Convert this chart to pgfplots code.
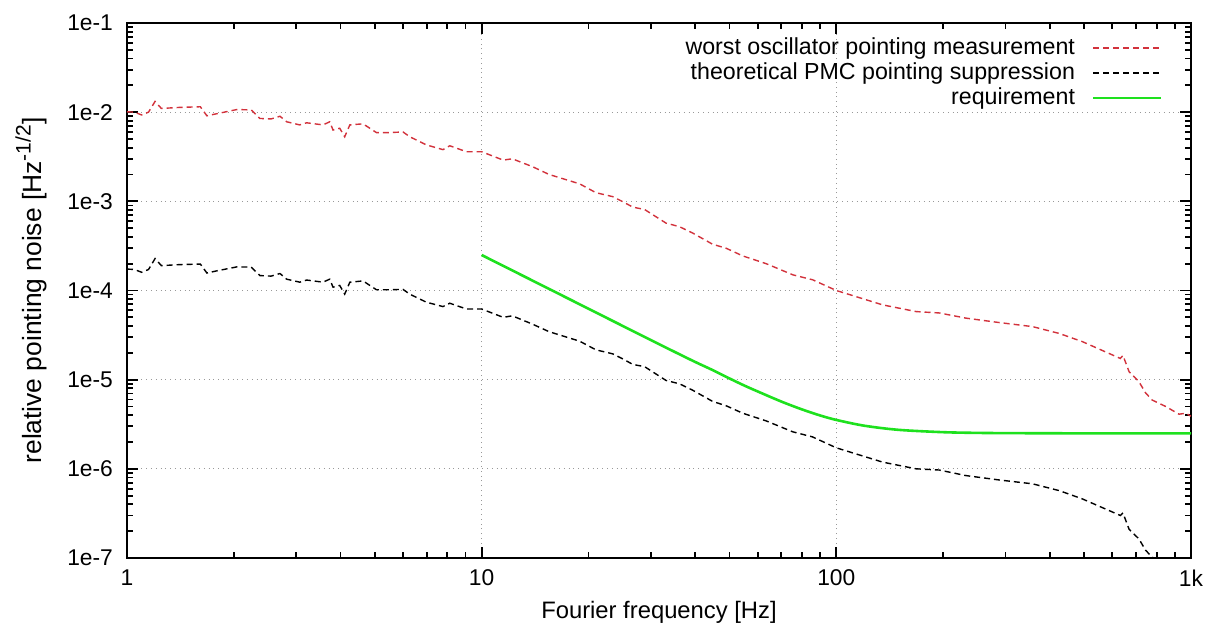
\documentclass[border=0pt]{standalone}
\usepackage{fontspec}
\setmainfont{Liberation Sans}
\usepackage{pgfplots}
\usepackage{pgfplotstable}
\pgfplotsset{compat=1.18}
\definecolor{redc}{RGB}{210,50,60}
\definecolor{greenc}{RGB}{30,225,30}

\pgfplotstableread{
f y
1.00 1.01e-2
1.05 1.00e-2
1.10 9.3e-3
1.15 1.0e-2
1.20 1.32e-2
1.25 1.10e-2
1.40 1.13e-2
1.61 1.15e-2
1.68 9.1e-3
1.79 9.6e-3
2.04 1.07e-2
2.24 1.06e-2
2.37 8.5e-3
2.55 8.4e-3
2.70 9.0e-3
2.82 7.8e-3
3.07 7.2e-3
3.21 7.6e-3
3.57 7.2e-3
3.73 7.8e-3
3.81 6.3e-3
3.98 6.6e-3
4.11 5.3e-3
4.25 7.2e-3
4.63 7.4e-3
5.05 5.9e-3
5.5 5.9e-3
6.0 6.0e-3
6.27 5.3e-3
6.98 4.3e-3
7.78 3.8e-3
8.13 4.2e-3
9.06 3.6e-3
10 3.6e-3
11.5 2.9e-3
12.2 3.0e-3
13.9 2.45e-3
15.5 2.0e-3
18.9 1.57e-3
21.0 1.25e-3
23.4 1.13e-3
25.0 9.9e-4
26.7 8.6e-4
28.8 8.1e-4
33.1 5.7e-4
36.1 5.2e-4
39.4 4.4e-4
44.8 3.3e-4
48.9 2.98e-4
54.5 2.44e-4
63.4 2.0e-4
75.4 1.50e-4
85.7 1.32e-4
100 1.0e-4
135 6.9e-5
168 5.8e-5
195 5.6e-5
232 4.9e-5
288 4.37e-5
357 3.94e-5
425 3.3e-5
494 2.67e-5
632 1.73e-5
643 1.87e-5
669 1.23e-5
713 9.5e-6
745 7.1e-6
778 5.9e-6
849 5.0e-6
925 4.1e-6
966 4.2e-6
1000 3.9e-6
}\redtab

\pgfplotstableread{
f y
1.00 1.74e-4
1.05 1.72e-4
1.10 1.60e-4
1.15 1.72e-4
1.20 2.28e-4
1.25 1.90e-4
1.40 1.95e-4
1.61 1.98e-4
1.68 1.57e-4
1.79 1.66e-4
2.04 1.84e-4
2.24 1.83e-4
2.37 1.47e-4
2.55 1.45e-4
2.70 1.55e-4
2.82 1.34e-4
3.07 1.24e-4
3.21 1.31e-4
3.57 1.24e-4
3.73 1.34e-4
3.81 1.09e-4
3.98 1.14e-4
4.11 9.1e-5
4.25 1.24e-4
4.63 1.28e-4
5.05 1.02e-4
5.5 1.02e-4
6.0 1.03e-4
6.27 9.1e-5
6.98 7.4e-5
7.78 6.6e-5
8.13 7.2e-5
9.06 6.2e-5
10 6.2e-5
11.5 5.0e-5
12.2 5.2e-5
13.9 4.2e-5
15.5 3.45e-5
18.9 2.7e-5
21.0 2.16e-5
23.4 1.95e-5
25.0 1.71e-5
26.7 1.48e-5
28.8 1.40e-5
33.1 9.8e-6
36.1 9.0e-6
39.4 7.6e-6
44.8 5.7e-6
48.9 5.1e-6
54.5 4.2e-6
63.4 3.45e-6
75.4 2.6e-6
85.7 2.28e-6
100 1.72e-6
135 1.19e-6
168 1.0e-6
195 9.7e-7
232 8.4e-7
288 7.5e-7
357 6.8e-7
425 5.7e-7
494 4.6e-7
632 3.0e-7
643 3.2e-7
669 2.1e-7
713 1.64e-7
745 1.22e-7
778 1.02e-7
849 8.6e-8
925 7.1e-8
}\blacktab

\pgfplotstableread{
f y
10 2.500e-4
12 1.736e-4
15 1.111e-4
20 6.25e-5
25 4.0e-5
30 2.78e-5
35 2.05e-5
40 1.58e-5
45 1.27e-5
50 1.031e-5
55 8.6e-6
60 7.38e-6
70 5.68e-6
80 4.64e-6
90 3.97e-6
100 3.536e-6
120 3.044e-6
150 2.736e-6
200 2.577e-6
250 2.53e-6
300 2.515e-6
400 2.505e-6
500 2.502e-6
700 2.50e-6
1000 2.50e-6
}\greentab

\begin{document}
\fontsize{11.5pt}{13.5pt}\selectfont
\begin{tikzpicture}
\begin{axis}[
  scale only axis, width=532pt, height=267.5pt,
  xmode=log, ymode=log,
  xmin=1, xmax=1000, ymin=1e-7, ymax=1e-1,
  xtick={1,10,100,1000}, xticklabels={1,10,100,1k},
  ytick={1e-7,1e-6,1e-5,1e-4,1e-3,1e-2,1e-1},
  yticklabels={1e-7,1e-6,1e-5,1e-4,1e-3,1e-2,1e-1},
  minor xtick={2,3,4,5,6,7,8,9,20,30,40,50,60,70,80,90,200,300,400,500,600,700,800,900},
  minor ytick={2e-7,3e-7,4e-7,5e-7,6e-7,7e-7,8e-7,9e-7,
               2e-6,3e-6,4e-6,5e-6,6e-6,7e-6,8e-6,9e-6,
               2e-5,3e-5,4e-5,5e-5,6e-5,7e-5,8e-5,9e-5,
               2e-4,3e-4,4e-4,5e-4,6e-4,7e-4,8e-4,9e-4,
               2e-3,3e-3,4e-3,5e-3,6e-3,7e-3,8e-3,9e-3,
               2e-2,3e-2,4e-2,5e-2,6e-2,7e-2,8e-2,9e-2},
  xtick pos=both, ytick pos=both,
  xticklabel pos=bottom, yticklabel pos=left,
  tick align=inside,
  major tick length=5.5pt, minor tick length=3pt,
  every tick/.style={black, line width=0.9pt},
  axis line style={line width=1pt},
  xmajorgrids, ymajorgrids,
  major grid style={gray!80, dotted, line width=0.6pt},
  /pgf/number format/assume math mode=true,
  tick label style={font=\fontsize{11.4pt}{13pt}\selectfont},
  xticklabel style={yshift=-2pt},
  yticklabel style={xshift=-3pt},
  every axis x label/.style={at={(axis description cs:0.5,0)}, yshift=-27pt, anchor=center,
    font=\fontsize{11.9pt}{14pt}\selectfont},
  every axis y label/.style={at={(axis description cs:0,0.5)}, xshift=-48pt, rotate=90, anchor=center,
    font=\fontsize{13.2pt}{15pt}\selectfont},
  xlabel={Fourier frequency [Hz]},
  ylabel={relative pointing noise [Hz\raisebox{0.75ex}{\fontsize{10.5pt}{12pt}\selectfont -1/2}]},
  legend plot pos=right,
  legend cell align=right,
  legend image code/.code={\draw[#1] (0pt,0pt) -- (34pt,0pt);},
  legend style={draw=none, fill=none, at={(rel axis cs:1,1)}, anchor=north east,
    xshift=-14pt, yshift=-6.25pt, inner sep=0pt, row sep=0.3pt, column sep=8pt,
    nodes={inner sep=0.5pt, text height=8.7pt, text depth=2.5pt},
    font=\fontsize{11.6pt}{13.5pt}\selectfont},
]
\addlegendimage{draw=redc, line width=0.9pt, dash pattern=on 3pt off 2pt}
\addlegendentry{worst oscillator pointing measurement}
\addlegendimage{draw=black, line width=0.9pt, dash pattern=on 3pt off 2pt}
\addlegendentry{theoretical PMC pointing suppression}
\addlegendimage{draw=greenc, line width=1.3pt}
\addlegendentry{requirement}
\addplot[redc, line width=0.7pt, dash pattern=on 3pt off 2pt, forget plot] table[x=f,y=y]{\redtab};
\addplot[black, line width=0.7pt, dash pattern=on 3pt off 2pt, forget plot] table[x=f,y=y]{\blacktab};
\addplot[greenc, line width=1.3pt, smooth, forget plot] table[x=f,y=y]{\greentab};
\end{axis}
\pgfresetboundingbox
\path[use as bounding box] (-63.5pt,-36pt) rectangle (541pt,279pt);
\end{tikzpicture}
\end{document}
